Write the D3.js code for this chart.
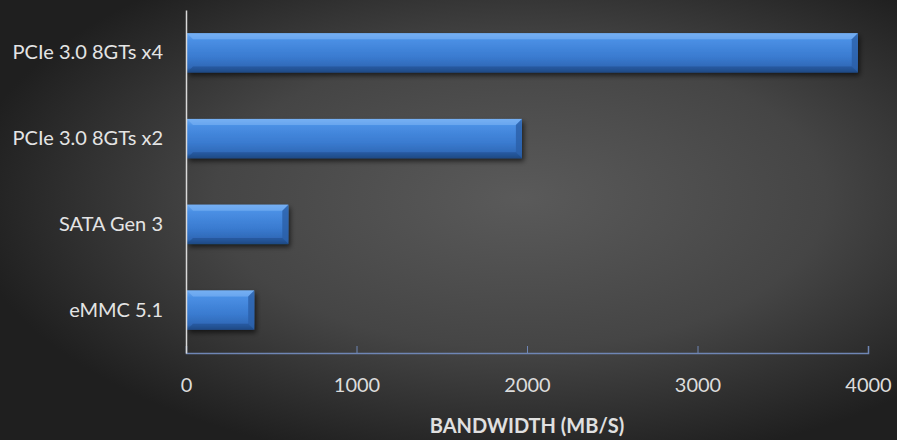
<!DOCTYPE html>
<html>
<head>
<meta charset="utf-8">
<script src="https://cdn.jsdelivr.net/npm/d3@7"></script>
<style>
  body { margin: 0; background: #2a2a2a; }
  svg { display: block; }
  text { font-family: Lato, "Open Sans", sans-serif; }
</style>
</head>
<body>
<div id="chart"></div>
<script>
// data
var categories = ['PCIe 3.0 8GTs x4', 'PCIe 3.0 8GTs x2', 'SATA Gen 3', 'eMMC 5.1'];
var bandwidth = [3940, 1970, 600, 400];
var xTicks = [0, 1000, 2000, 3000, 4000];
var xTitle = 'BANDWIDTH (MB/S)';

var W = 897, H = 440;
var margin = {top: 10, right: 29, bottom: 87, left: 186};
var width = W - margin.left - margin.right,
    height = H - margin.top - margin.bottom;

var svg = d3.select('#chart').append('svg')
    .attr('width', W)
    .attr('height', H);

var defs = svg.append('defs');

// background: soft gray glow in the middle, dark edges
var bg = defs.append('radialGradient')
    .attr('id', 'bg')
    .attr('cx', '0.58').attr('cy', '0.45').attr('r', '0.62');
bg.append('stop').attr('offset', '0%').attr('stop-color', '#5a5a5a');
bg.append('stop').attr('offset', '55%').attr('stop-color', '#454545');
bg.append('stop').attr('offset', '100%').attr('stop-color', '#1f1f1f');

svg.append('rect')
    .attr('width', W).attr('height', H)
    .attr('fill', 'url(#bg)');

var barGrad = defs.append('linearGradient')
    .attr('id', 'barGrad')
    .attr('x1', 0).attr('y1', 0).attr('x2', 0).attr('y2', 1);
barGrad.append('stop').attr('offset', '0%').attr('stop-color', '#6aa8f0');
barGrad.append('stop').attr('offset', '18%').attr('stop-color', '#4a8fe4');
barGrad.append('stop').attr('offset', '60%').attr('stop-color', '#3a7bd0');
barGrad.append('stop').attr('offset', '88%').attr('stop-color', '#2f68b6');
barGrad.append('stop').attr('offset', '100%').attr('stop-color', '#1d4478');

var shadow = defs.append('filter')
    .attr('id', 'shadow')
    .attr('x', '-5%').attr('y', '-20%').attr('width', '115%').attr('height', '160%');
shadow.append('feDropShadow')
    .attr('dx', 2).attr('dy', 3).attr('stdDeviation', 2.5)
    .attr('flood-color', '#000').attr('flood-opacity', 0.6);

var g = svg.append('g')
    .attr('transform', 'translate(' + margin.left + ',' + margin.top + ')');

var x = d3.scaleLinear()
    .domain([0, 4000])
    .range([0, width]);

var y = d3.scaleBand()
    .domain(categories)
    .range([0, height])
    .paddingInner(0.54)
    .paddingOuter(0.27);

// bars
var bar = g.selectAll('.bar')
    .data(categories)
  .enter().append('g')
    .attr('class', 'bar')
    .attr('transform', function(d) { return 'translate(0,' + y(d) + ')'; });

bar.append('rect')
    .attr('x', 1)
    .attr('width', function(d, i) { return x(bandwidth[i]) - 1; })
    .attr('height', y.bandwidth())
    .attr('fill', 'url(#barGrad)')
    .attr('filter', 'url(#shadow)');

// bevel on the top edge
var bev = 6;
bar.append('path')
    .attr('d', function(d, i) {
        var w = x(bandwidth[i]);
        return 'M1,0L' + w + ',0L' + (w - bev) + ',' + bev + 'L' + (1 + bev) + ',' + bev + 'Z';
    })
    .attr('fill', '#7fb6f5')
    .attr('opacity', 0.55);

// bevel on the right end
bar.append('path')
    .attr('d', function(d, i) {
        var w = x(bandwidth[i]), h = y.bandwidth();
        return 'M' + w + ',0L' + w + ',' + h + 'L' + (w - bev) + ',' + (h - bev) + 'L' + (w - bev) + ',' + bev + 'Z';
    })
    .attr('fill', '#2a5fa8')
    .attr('opacity', 0.8);

// bottom bevel
bar.append('path')
    .attr('d', function(d, i) {
        var w = x(bandwidth[i]), h = y.bandwidth();
        return 'M1,' + h + 'L' + w + ',' + h + 'L' + (w - bev) + ',' + (h - bev) + 'L' + (1 + bev) + ',' + (h - bev) + 'Z';
    })
    .attr('fill', '#1f4c8c')
    .attr('opacity', 0.6);

// x axis
var xAxis = g.append('g')
    .attr('transform', 'translate(0,' + height + ')')
    .call(d3.axisBottom(x).tickValues(xTicks).tickFormat(d3.format('d'))
        .tickSize(-7).tickPadding(25));
xAxis.select('.domain').attr('stroke', '#6f86b5').attr('stroke-width', 1.5);
xAxis.selectAll('.tick line').attr('stroke', '#6f86b5');
xAxis.selectAll('.tick text')
    .attr('fill', '#dcdcdc')
    .style('font-size', '20px');

// y axis
var yAxis = g.append('g')
    .call(d3.axisLeft(y).tickSize(0).tickPadding(23));
yAxis.select('.domain').attr('stroke', '#d9d9d9').attr('stroke-width', 1.5);
yAxis.selectAll('.tick text')
    .attr('fill', '#e4e4e4')
    .style('font-size', '20px');

// axis title
g.append('text')
    .attr('x', x(2000))
    .attr('y', height + 80)
    .attr('text-anchor', 'middle')
    .attr('fill', '#e0e0e0')
    .style('font-size', '20px')
    .style('font-weight', 'bold')
    .text(xTitle);
</script>
</body>
</html>
